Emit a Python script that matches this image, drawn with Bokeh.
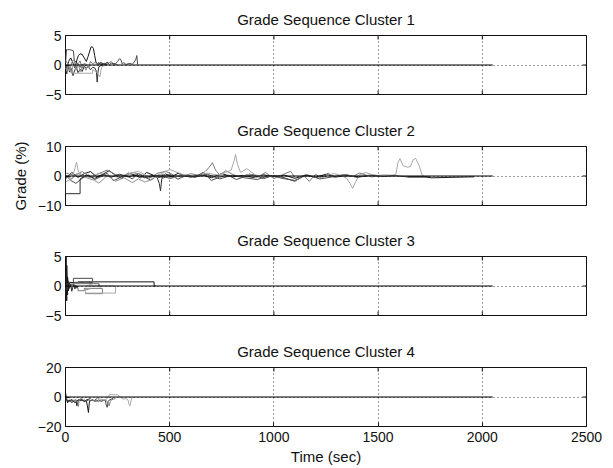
import math
from bokeh.plotting import figure
from bokeh.models import Range1d, FixedTicker
from bokeh.layouts import column
from bokeh.embed import file_html
from bokeh.resources import INLINE

# ---------------- data ----------------
x_ticks = [0, 500, 1000, 1500, 2000, 2500]
titles = ["Grade Sequence Cluster 1", "Grade Sequence Cluster 2",
          "Grade Sequence Cluster 3", "Grade Sequence Cluster 4"]
y_limits = [(-5, 5), (-10, 10), (-5, 5), (-20, 20)]
zero_t = [0, 2050]
zero_g = [0, 0]

# Cluster 1
c1a_t = [0, 5, 10, 20, 30, 38, 42, 50, 60, 70, 80, 90, 100]
c1a_g = [0.3, 2.6, 2.6, 2.6, 2.5, 2.4, 0.8, 0.5, 0.2, -0.4, 0.1, -0.3, 0.0]
c1b_t = [0, 8, 15, 25, 35, 45, 55, 62, 70, 80, 90, 100, 108, 115, 122, 128, 134, 140, 146, 152, 160, 170, 180]
c1b_g = [0.2, -0.8, 0.6, 1.2, 0.4, -0.5, 0.9, 1.6, 1.9, 1.8, 1.2, 0.6, 1.4, 2.2, 3.0, 3.1, 2.8, 1.6, 0.5, 0.2, 0.4, 0.1, 0.0]
c1c_t = [0, 6, 12, 20, 28, 36, 44, 52, 60, 70, 80, 90, 100, 110, 120, 130, 140, 148, 152, 156, 160, 170, 180, 200]
c1c_g = [-0.5, -1.5, -0.3, -1.2, -0.6, -1.8, -0.9, -0.4, -1.3, -0.7, -1.1, -0.2, -0.6, -0.3, -0.8, -0.4, -0.5, -1.0, -2.9, -1.2, -0.3, -0.1, 0.2, 0.0]
c1d_t = [0, 20, 34, 34, 60, 90, 130, 130, 150, 165, 170, 175, 190]
c1d_g = [-0.6, -0.9, -1.0, -1.4, -1.4, -1.4, -1.4, -0.8, -1.2, -2.0, -0.9, -0.3, 0.0]
c1e_t = [0, 10, 20, 30, 40, 50, 60, 70, 80, 90, 100, 110, 120, 130, 140, 150, 160, 170, 180, 190, 200, 210, 220, 230, 240, 250]
c1e_g = [0.8, 0.2, -0.9, 0.4, 0.9, -0.4, 0.2, 0.7, -0.6, 0.3, 0.1, -0.5, 0.6, 0.2, 0.4, 0.3, 0.1, 0.5, 0.2, 0.3, 0.2, 0.4, 0.6, 0.1, 0.2, 0.0]
c1f_t = [150, 170, 190, 200, 210, 220, 240, 250, 260, 266, 272, 280, 290, 300, 310, 320, 330, 338, 342, 346]
c1f_g = [0.1, 0.3, 0.2, 0.5, 0.1, 0.3, 0.2, 0.6, 1.1, 0.9, 0.2, 0.4, 0.1, 0.2, 0.3, 0.1, 0.5, 1.0, 1.6, 0.1]
c1g_t = [0, 7, 14, 21, 28, 35, 42, 49, 56, 63, 70, 77, 84, 91, 98, 105, 112, 120]
c1g_g = [-0.2, -1.0, 0.3, -0.7, -1.4, -0.3, 0.2, -0.9, -0.5, 0.1, -1.2, -0.6, 0.2, -0.4, -0.9, -0.2, -0.5, 0.0]

# Cluster 2
c2a_t = [0, 30, 60, 90, 120, 150, 180, 210, 240, 270, 300, 330, 360, 390, 420, 450, 480, 510, 540, 570, 600, 650, 700, 750, 800, 850, 900, 950, 1000, 1050, 1100, 1150, 1200, 1250, 1300, 1350, 1400, 1450]
c2a_g = [-1.0, 1.2, -0.5, 0.8, 1.5, -0.3, 0.6, 1.8, 0.2, -0.8, 1.0, 0.4, -0.6, 1.2, 0.3, -0.5, 0.7, -0.2, 0.9, 0.1, -0.4, 0.5, -0.6, 0.8, -0.3, 0.2, -0.5, 0.4, -0.2, 0.3, -0.8, 0.2, -0.4, 0.6, -0.3, 0.1, -0.2, 0.0]
c2b_t = [0, 25, 50, 80, 110, 140, 170, 200, 230, 260, 290, 320, 350, 380, 410, 440, 470, 500, 540, 580, 620, 660, 700, 740, 780, 820, 860, 900, 950, 1000, 1050, 1100, 1150, 1200, 1250]
c2b_g = [0.5, -1.5, -2.5, -0.8, 0.4, -1.2, -0.2, 0.9, -1.6, -0.6, 0.3, -1.0, 0.8, -0.4, -1.4, 0.2, -0.7, 0.6, -1.1, 0.4, -0.3, 1.2, -1.5, -0.4, 0.3, -1.2, -0.2, 0.5, -0.9, 0.2, -0.6, -1.8, 0.4, -0.5, 0.0]
c2c_t = [0, 40, 80, 120, 160, 200, 240, 280, 320, 360, 400, 440, 480, 520, 560, 600, 640, 670, 690, 705, 720, 740, 770, 800, 840, 870, 900]
c2c_g = [1.0, 0.2, 1.5, -0.4, 0.8, 2.0, 0.5, -0.3, 1.2, 0.6, -0.8, 0.9, 1.6, 0.3, -0.5, 0.8, 0.2, 1.5, 3.0, 4.5, 2.0, 0.4, 1.8, 0.6, -0.4, 0.5, 0.0]
c2d_t = [0, 30, 45, 53, 62, 80, 120, 160, 200, 250, 300, 350, 400, 450, 500, 560, 620, 680, 730, 770, 795, 808, 816, 825, 840, 870, 910, 950, 1000]
c2d_g = [-2.0, -1.0, 2.5, 4.7, 1.5, 0.3, -0.6, 1.0, 0.2, -0.4, 0.8, 1.6, -0.3, 0.4, 2.2, 0.6, -0.5, 1.0, 0.3, 1.2, 2.0, 5.0, 7.3, 4.0, 1.2, 2.5, 0.4, -0.2, 0.0]
c2e_t = [0, 0, 70, 70, 100, 140, 180, 220, 260, 300, 340, 380, 420, 440, 450, 456, 462, 475, 500, 520]
c2e_g = [-1.0, -6.0, -6.0, -1.0, 0.3, -0.8, 0.5, -0.4, 0.6, -0.3, 0.4, -0.6, 0.2, -0.5, -2.5, -5.0, -1.0, 0.2, -0.2, 0.0]
c2f_t = [1250, 1290, 1320, 1350, 1365, 1378, 1392, 1410, 1440, 1470, 1500, 1530, 1560, 1585, 1595, 1605, 1620, 1640, 1655, 1668, 1680, 1690, 1700, 1710, 1720]
c2f_g = [0.3, 0.8, 0.2, -0.8, -2.5, -4.2, -2.0, 0.4, 1.2, 0.5, 0.2, 0.4, 0.3, 0.5, 4.5, 5.9, 3.5, 3.0, 3.2, 5.5, 6.0, 4.5, 3.0, 0.5, 0.0]
c2g_t = [400, 450, 500, 560, 620, 680, 740, 800, 860, 920, 980, 1040, 1100, 1160, 1220, 1280, 1340, 1400, 1460, 1520, 1580, 1640, 1700, 1750]
c2g_g = [-0.5, 0.3, -0.8, 0.2, -0.4, 0.6, -1.0, 0.3, -0.6, -1.2, 0.2, -0.8, -1.5, 0.4, -1.0, -0.3, 0.5, -0.5, 0.3, -0.2, 0.1, -0.3, -0.3, -0.3]
c2h_t = [0, 30, 60, 100, 140, 160, 180, 200, 240, 280, 320, 350, 380, 400, 430, 470, 510, 550, 600]
c2h_g = [0.4, -1.0, 0.8, -0.6, -1.5, -2.4, -1.2, 0.2, -1.8, -0.6, -2.2, -1.0, -2.0, -1.6, -0.4, 0.6, -0.8, 0.3, 0.0]
c2i_t = [880, 920, 960, 1000, 1040, 1080, 1110, 1140, 1170, 1200, 1230, 1260, 1290, 1320, 1350, 1380, 1410, 1440, 1470, 1500]
c2i_g = [0.8, -0.5, 1.2, -0.9, 0.4, 1.6, -1.4, 0.3, -1.8, 0.6, -0.8, 1.0, -0.6, 0.2, 0.5, -0.2, 1.0, 0.4, -0.3, 0.0]
c2j_t = [1640, 1725, 1755, 1765, 1945, 1960]
c2j_g = [-0.3, -0.3, -0.6, -0.6, -0.3, -0.3]

# Cluster 3
c3a_t = [0, 3, 3, 6, 6, 10, 10, 14, 14, 20, 20, 60, 60, 425, 425, 432]
c3a_g = [0.0, 5.0, 0.5, -2.5, 3.5, -1.5, 1.5, 0.2, -0.8, 0.5, 0.6, 0.6, 0.7, 0.7, 0.0, 0.0]
c3b_t = [0, 8, 8, 38, 38, 130, 130, 38, 38, 160, 160]
c3b_g = [-0.5, -0.5, 0.3, 0.3, 1.3, 1.3, 0.6, 0.6, 0.4, 0.4, 0.0]
c3c_t = [40, 60, 60, 90, 90, 177, 177, 96, 96, 110]
c3c_g = [-0.3, -0.3, -0.8, -0.8, -0.4, -0.4, -1.3, -1.3, -0.6, -0.6]
c3d_t = [100, 240, 240, 96, 96, 120]
c3d_g = [0.0, 0.0, -1.2, -1.2, -0.5, -0.5]
c3e_t = [20, 40, 60, 80, 100, 120, 140, 160, 165, 170]
c3e_g = [0.2, 0.4, 0.5, 0.4, 0.5, 0.3, 0.5, 0.4, -0.2, 0.0]
c3f_t = [0, 5, 10, 15, 20, 25, 30, 35, 40, 45, 50, 55, 60]
c3f_g = [-1.2, 0.4, -0.6, 0.8, -0.4, 0.3, -0.9, -0.2, 0.3, -0.5, 0.1, -0.3, 0.0]

# Cluster 4
c4a_t = [0, 5, 10, 15, 20, 30, 40, 50, 55, 60, 65, 70, 80, 90, 100, 105, 110, 115, 120, 130, 140, 150]
c4a_g = [3.0, -1.0, -4.0, -2.0, -3.0, -2.5, -3.0, -2.0, -6.0, -2.5, -2.0, -2.5, -2.0, -3.0, -2.5, -6.0, -10.5, -3.0, -2.5, -2.0, -2.5, -1.0]
c4b_t = [0, 10, 20, 30, 40, 50, 60, 70, 80, 90, 100, 110, 120, 130, 140, 150, 160, 170, 180, 190, 195, 200, 205, 210, 220, 230]
c4b_g = [-2.0, -3.0, -2.0, -4.0, -2.5, -2.0, -3.0, -2.0, -2.5, -2.0, -3.0, -2.0, -2.5, -2.0, -3.0, -2.5, -2.0, -3.0, -2.5, -2.0, -5.0, -7.0, -3.0, -2.0, -1.5, -0.5]
c4c_t = [120, 140, 160, 170, 180, 190, 200, 205, 210, 215, 220, 230, 240]
c4c_g = [-2.0, -2.5, -3.0, -2.0, -2.5, -2.0, -3.0, -5.0, -6.0, -3.0, -2.0, -1.5, -1.0]
c4d_t = [150, 170, 190, 200, 210, 220, 230, 240, 250, 260, 270, 280, 290, 300, 305, 310, 315, 320]
c4d_g = [-1.0, -1.5, -2.0, -1.0, 1.5, 1.8, 1.5, 1.6, 1.5, 0.5, -1.0, -1.5, -1.0, -2.0, -5.0, -6.0, -2.0, -0.5]
c4e_t = [0, 15, 30, 45, 60, 75, 90, 100, 110, 120]
c4e_g = [-1.0, -3.0, -1.5, -4.0, -2.0, -1.5, -3.0, -2.0, -1.5, -1.0]
c4f_t = [40, 50, 58, 62, 66, 75, 85]
c4f_g = [-2.0, -2.5, -3.0, -6.5, -2.0, -1.0, -0.5]

trace_colors = ["#151515", "#4a4a4a", "#7a7a7a", "#a8a8a8", "#303030", "#929292"]

cluster1 = [(c1a_t, c1a_g, 1), (c1b_t, c1b_g, 0), (c1c_t, c1c_g, 4), (c1d_t, c1d_g, 3),
            (c1e_t, c1e_g, 2), (c1f_t, c1f_g, 1), (c1g_t, c1g_g, 5)]
cluster2 = [(c2a_t, c2a_g, 0), (c2b_t, c2b_g, 1), (c2c_t, c2c_g, 2), (c2d_t, c2d_g, 3), (c2e_t, c2e_g, 4),
            (c2f_t, c2f_g, 3), (c2g_t, c2g_g, 1), (c2h_t, c2h_g, 5), (c2i_t, c2i_g, 2), (c2j_t, c2j_g, 0)]
cluster3 = [(c3a_t, c3a_g, 0), (c3b_t, c3b_g, 1), (c3c_t, c3c_g, 2), (c3d_t, c3d_g, 3), (c3e_t, c3e_g, 5), (c3f_t, c3f_g, 4)]
cluster4 = [(c4a_t, c4a_g, 0), (c4b_t, c4b_g, 1), (c4c_t, c4c_g, 2), (c4d_t, c4d_g, 3), (c4e_t, c4e_g, 4), (c4f_t, c4f_g, 5)]
clusters = [cluster1, cluster2, cluster3, cluster4]

FONT = "Liberation Sans"
INK = "#111111"
borders = [(35, 17), (35, 16), (35, 17), (35, 42)]


def make_panel(i):
    lo, hi = y_limits[i]
    y_ticks = [lo, 0, hi]
    top, bottom = borders[i]
    p = figure(frame_width=521, frame_height=59,
               x_range=Range1d(0, 2500), y_range=Range1d(lo, hi),
               output_backend="svg", toolbar_location=None,
               min_border_left=65, min_border_right=27,
               min_border_top=top, min_border_bottom=bottom,
               title=titles[i], background_fill_color="white",
               border_fill_color="white")
    p.title.text_font = FONT
    p.title.text_font_size = "15px"
    p.title.text_font_style = "normal"
    p.title.align = "center"
    p.title.text_color = INK
    p.title.standoff = 15

    p.outline_line_color = INK
    p.outline_line_width = 1
    p.outline_line_alpha = 1

    p.xaxis.ticker = FixedTicker(ticks=x_ticks)
    p.yaxis.ticker = FixedTicker(ticks=y_ticks)
    for ax in (p.xaxis[0], p.yaxis[0]):
        ax.major_tick_in = 4
        ax.major_tick_out = 0
        ax.minor_tick_in = 0
        ax.minor_tick_out = 0
        ax.axis_line_color = None
        ax.major_tick_line_color = INK
        ax.major_label_text_font = FONT
        ax.major_label_text_font_size = "14px"
        ax.major_label_text_color = INK
    p.yaxis.major_label_standoff = 4
    p.xaxis.major_label_standoff = 5
    if i < 3:
        p.xaxis.visible = False
        # inward tick marks on the bottom edge
        p.scatter(x_ticks, [lo] * len(x_ticks), marker="dash", size=8,
                  angle=math.pi / 2, line_color=INK, line_width=1)
    else:
        p.xaxis.axis_label = "Time (sec)"
        p.xaxis.axis_label_text_font = FONT
        p.xaxis.axis_label_text_font_size = "15px"
        p.xaxis.axis_label_text_font_style = "normal"
        p.xaxis.axis_label_text_color = INK
        p.xaxis.axis_label_standoff = 3
    if i == 1:
        p.yaxis.axis_label = "Grade (%)"
        p.yaxis.axis_label_text_font = FONT
        p.yaxis.axis_label_text_font_size = "15px"
        p.yaxis.axis_label_text_font_style = "normal"
        p.yaxis.axis_label_text_color = INK
        p.yaxis.axis_label_standoff = 6

    # mirrored inward ticks on top and right edges
    p.scatter(x_ticks, [hi] * len(x_ticks), marker="dash", size=8,
              angle=math.pi / 2, line_color=INK, line_width=1)
    p.scatter([2500] * len(y_ticks), y_ticks, marker="dash", size=8,
              line_color=INK, line_width=1)

    p.xgrid.grid_line_color = "#222222"
    p.xgrid.grid_line_dash = "1 3"
    p.xgrid.grid_line_alpha = 0.9
    p.ygrid.grid_line_color = "#222222"
    p.ygrid.grid_line_dash = "1 3"
    p.ygrid.grid_line_alpha = 0.9

    for t, g, c in clusters[i]:
        p.line(t, g, line_color=trace_colors[c], line_width=1)
    p.line(zero_t, zero_g, line_color="#000000", line_width=1)
    return p


panels = [make_panel(i) for i in range(4)]
layout = column(*panels, spacing=0)
open("out.html", "w").write(file_html(layout, INLINE))
